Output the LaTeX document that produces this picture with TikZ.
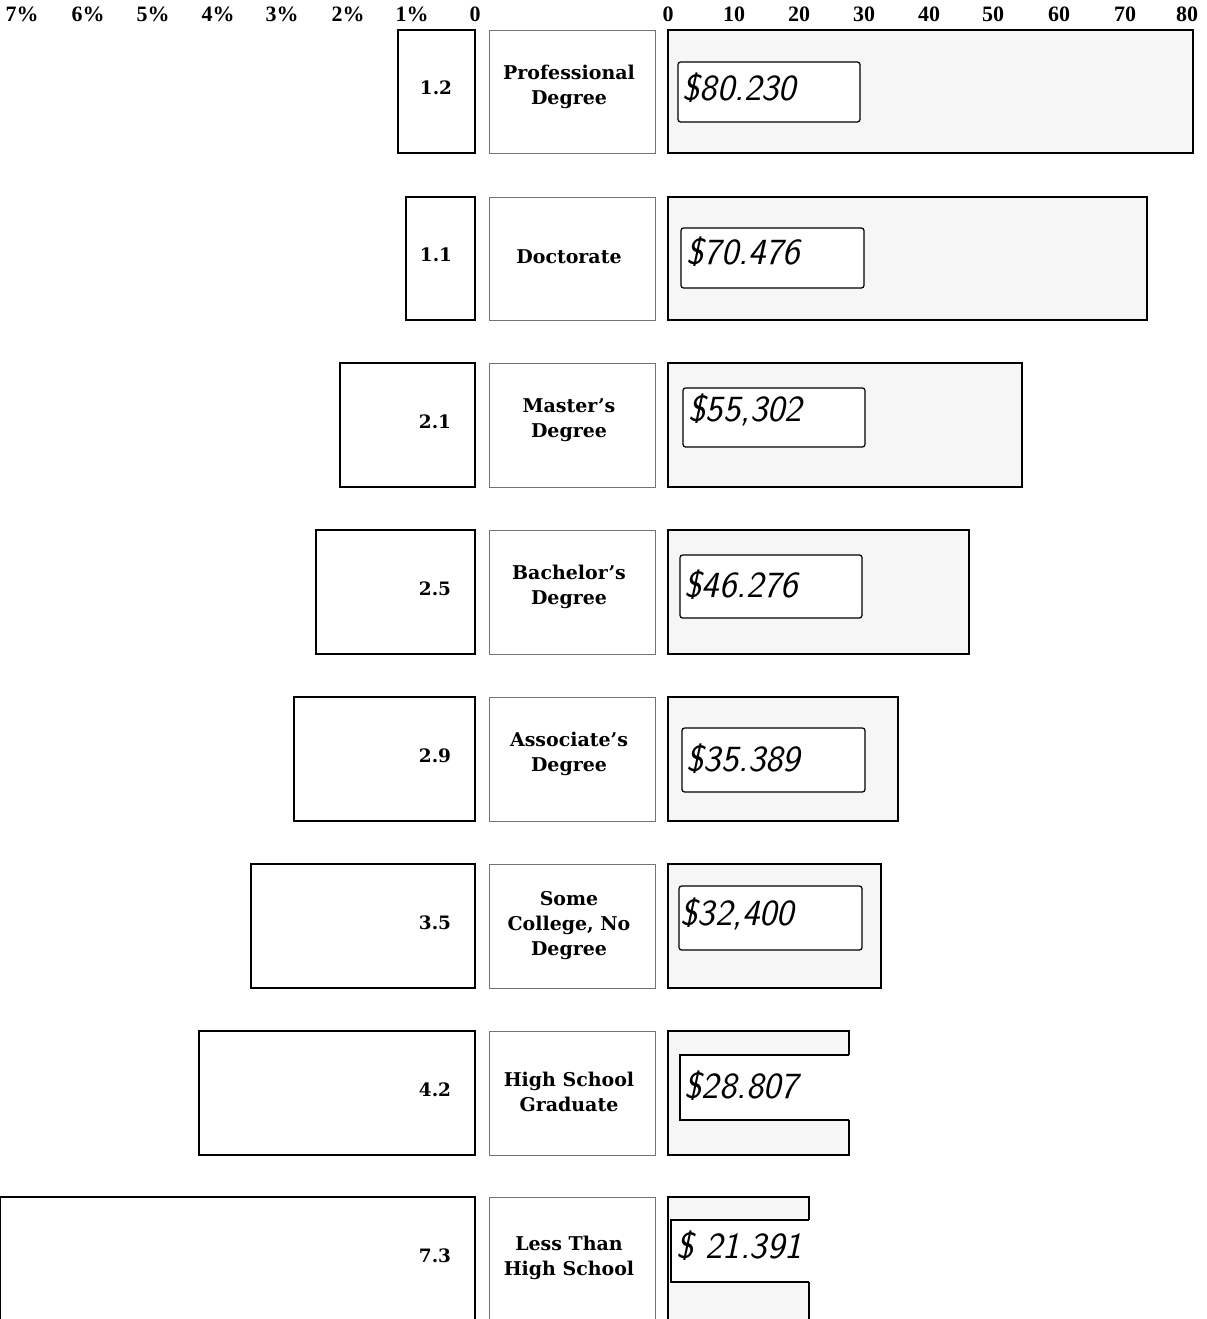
\documentclass[tikz,border=0pt]{standalone}
\usepackage{fontspec}
\setmainfont{DejaVu Serif}
\newfontfamily\axisfont{Liberation Serif}
\usetikzlibrary{positioning}

\begin{document}
\begin{tikzpicture}[
        x=0.02cm, y=-0.02cm,
        every path/.style={line width=0.7pt},
        ratebar/.style={draw=black, line width=0.6pt},
        levelbox/.style={draw=black!55, line width=0.5pt},
        paybar/.style={draw=black, fill=gray!7},
        paybox/.style={draw=black, fill=white, rounded corners=1.5pt},
        tick/.style={font=\axisfont\bfseries\fontsize{12.5}{12.5}\selectfont, inner sep=0pt},
        rate/.style={font=\bfseries\fontsize{10.5}{12}\selectfont},
        level/.style={font=\bfseries\fontsize{10.8}{14.2}\selectfont, align=center},
        pay/.style={font=\sffamily\itshape\fontsize{21}{21}\selectfont, anchor=west, inner sep=0pt}
    ]
  \useasboundingbox (0,0) rectangle (1207,1319);

  % Axes
  \foreach \p/\x in {7/22,6/88,5/153,4/218,3/282,2/348,1/412}
    \node[tick] (pct\p) at (\x,14) {\p\%};
  \node[tick] (pct0) at (475,14) {0};
  \foreach \k/\x in {0/668,10/734,20/799,30/864,40/929,50/993,60/1059,70/1125,80/1187}
    \node[tick] (usd\k) at (\x,14) {\k};

  % Professional Degree
  \draw[ratebar] (398,30) rectangle (475,153);
  \node[rate] (rate1) at (436,88) {1.2};
  \draw[levelbox] (489,30) rectangle (655,153);
  \node[level] (level1) at (569,87) {Professional\\Degree};
  \draw[paybar] (668,30) rectangle (1193,153);
  \draw[paybox] (678,62) rectangle (860,122);
  \node[pay] (pay1) at (682,88) {\$80.230};

  % Doctorate
  \draw[ratebar] (406,197) rectangle (475,320);
  \node[rate] (rate2) at (436,255) {1.1};
  \draw[levelbox] (489,197) rectangle (655,320);
  \node[level] (level2) at (569,257) {Doctorate};
  \draw[paybar] (668,197) rectangle (1147,320);
  \draw[paybox] (681,228) rectangle (864,288);
  \node[pay] (pay2) at (686,252) {\$70.476};

  % Master's Degree
  \draw[ratebar] (340,363) rectangle (475,487);
  \node[rate] (rate3) at (435,422) {2.1};
  \draw[levelbox] (489,363) rectangle (655,487);
  \node[level] (level3) at (569,420) {Master’s\\Degree};
  \draw[paybar] (668,363) rectangle (1022,487);
  \draw[paybox] (683,388) rectangle (865,447);
  \node[pay] (pay3) at (688,410) {\$55,302};

  % Bachelor's Degree
  \draw[ratebar] (316,530) rectangle (475,654);
  \node[rate] (rate4) at (435,589) {2.5};
  \draw[levelbox] (489,530) rectangle (655,654);
  \node[level] (level4) at (569,587) {Bachelor’s\\Degree};
  \draw[paybar] (668,530) rectangle (969,654);
  \draw[paybox] (680,555) rectangle (862,618);
  \node[pay] (pay4) at (684,585) {\$46.276};

  % Associate's Degree
  \draw[ratebar] (294,697) rectangle (475,821);
  \node[rate] (rate5) at (435,756) {2.9};
  \draw[levelbox] (489,697) rectangle (655,821);
  \node[level] (level5) at (569,754) {Associate’s\\Degree};
  \draw[paybar] (668,697) rectangle (898,821);
  \draw[paybox] (682,728) rectangle (865,792);
  \node[pay] (pay5) at (686,759) {\$35.389};

  % Some College, No Degree
  \draw[ratebar] (251,864) rectangle (475,988);
  \node[rate] (rate6) at (435,923) {3.5};
  \draw[levelbox] (489,864) rectangle (655,988);
  \node[level] (level6) at (569,926) {Some\\College, No\\Degree};
  \draw[paybar] (668,864) rectangle (881,988);
  \draw[paybox] (679,886) rectangle (862,950);
  \node[pay] (pay6) at (680,914) {\$32,400};

  % High School Graduate
  \draw[ratebar] (199,1031) rectangle (475,1155);
  \node[rate] (rate7) at (435,1090) {4.2};
  \draw[levelbox] (489,1031) rectangle (655,1155);
  \node[level] (level7) at (569,1092) {High School\\Graduate};
  \draw[paybar] (849,1055) -- (849,1031) -- (668,1031) -- (668,1155) -- (849,1155) -- (849,1120);
  \fill[white] (680,1055) rectangle (849,1120);
  \draw[black] (849,1055) -- (680,1055) -- (680,1120) -- (849,1120);
  \node[pay] (pay7) at (684,1086) {\$28.807};

  % Less Than High School
  \draw[ratebar] (0,1197) rectangle (475,1330);
  \node[rate] (rate8) at (435,1256) {7.3};
  \draw[levelbox] (489,1197) rectangle (655,1330);
  \node[level] (level8) at (569,1258) {Less Than\\High School};
  \draw[paybar] (809,1220) -- (809,1197) -- (668,1197) -- (668,1330) -- (809,1330) -- (809,1282);
  \fill[white] (671,1220) rectangle (809,1282);
  \draw[black] (809,1220) -- (671,1220) -- (671,1282) -- (809,1282);
  \node[pay] (pay8) at (676,1246) {\$ 21.391};
\end{tikzpicture}
\end{document}
